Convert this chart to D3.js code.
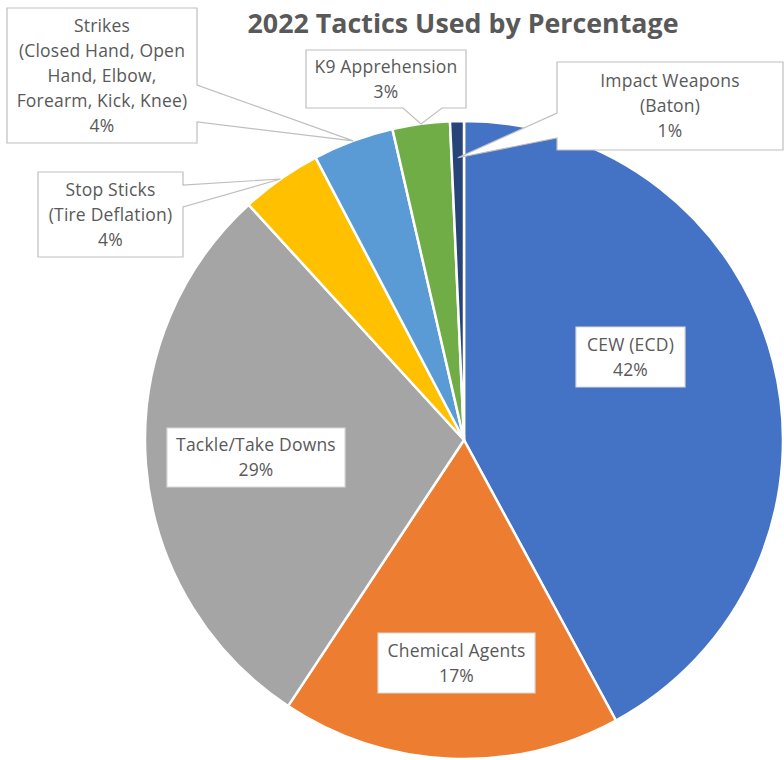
<!DOCTYPE html>
<html>
<head>
<meta charset="utf-8">
<script src="https://cdn.jsdelivr.net/npm/d3@7"></script>
<style>
  html, body { margin: 0; padding: 0; background: #fff; }
  svg { display: block; }
  text { font-family: "Open Sans", "Noto Sans", sans-serif; fill: #595959; }
</style>
</head>
<body>
<svg id="chart" width="784" height="760"></svg>
<script>
// ---- data ----
const categories = ["CEW (ECD)", "Chemical Agents", "Tackle/Take Downs", "Stop Sticks (Tire Deflation)",
  "Strikes (Closed Hand, Open Hand, Elbow, Forearm, Kick, Knee)", "K9 Apprehension", "Impact Weapons (Baton)"];
const values = [42.1, 17.2, 28.9, 4.1, 4.1, 2.9, 0.7];
const percentLabels = ["42%", "17%", "29%", "4%", "4%", "3%", "1%"];
const labelLines = [
  ["CEW (ECD)"],
  ["Chemical Agents"],
  ["Tackle/Take Downs"],
  ["Stop Sticks", "(Tire Deflation)"],
  ["Strikes", "(Closed Hand, Open", "Hand, Elbow,", "Forearm, Kick, Knee)"],
  ["K9 Apprehension"],
  ["Impact Weapons", "(Baton)"]
];
const colors = ["#4472C4", "#ED7D31", "#A5A5A5", "#FFC000", "#5B9BD5", "#70AD47", "#264478"];
const title = "2022 Tactics Used by Percentage";

// ---- layout (label boxes and callouts) ----
const cx = 464, cy = 440, R = 319;
const boxes = [
  {x: 576, y: 327, w: 109, h: 60},
  {x: 378, y: 633, w: 157, h: 60},
  {x: 167, y: 428, w: 178, h: 59},
  {x: 38, y: 172, w: 145, h: 85, ptr: {side: "right", y1: 185, y2: 207, tipR: 1.0}},
  {x: 7, y: 8, w: 190, h: 135, ptr: {side: "right", y1: 85, y2: 122, tipR: 1.0}},
  {x: 306, y: 50, w: 160, h: 58, ptr: {side: "bottom", x1: 403, x2: 442, tipR: 1.0}},
  {x: 557, y: 62, w: 226, h: 88, ptr: {side: "left", y1: 113, y2: 138, tipR: 0.885}}
];

const svg = d3.select("#chart");

const pie = d3.pie().sort(null).value(d => d).startAngle(0).endAngle(2 * Math.PI);
const arcs = pie(values);
const arc = d3.arc().innerRadius(0).outerRadius(R);

const g = svg.append("g").attr("transform", `translate(${cx},${cy})`);
g.selectAll("path.slice")
  .data(arcs)
  .join("path")
  .attr("class", "slice")
  .attr("d", arc)
  .attr("fill", (d, i) => colors[i])
  .attr("stroke", "#fff")
  .attr("stroke-width", 2.5)
  .attr("stroke-linejoin", "round");

function tip(i, f) {
  const a = arcs[i];
  const mid = (a.startAngle + a.endAngle) / 2;
  const r = R * f;
  return [cx + r * Math.sin(mid), cy - r * Math.cos(mid)];
}

// ---- label boxes ----
const lh = 25;
boxes.forEach((b, i) => {
  let pts;
  const x0 = b.x, y0 = b.y, x1 = b.x + b.w, y1 = b.y + b.h;
  if (!b.ptr) {
    pts = [[x0, y0], [x1, y0], [x1, y1], [x0, y1]];
  } else {
    const t = tip(i, b.ptr.tipR);
    if (b.ptr.side === "right") {
      pts = [[x0, y0], [x1, y0], [x1, b.ptr.y1], t, [x1, b.ptr.y2], [x1, y1], [x0, y1]];
    } else if (b.ptr.side === "bottom") {
      pts = [[x0, y0], [x1, y0], [x1, y1], [b.ptr.x2, y1], t, [b.ptr.x1, y1], [x0, y1]];
    } else {
      pts = [[x0, y0], [x1, y0], [x1, y1], [x0, y1], [x0, b.ptr.y2], t, [x0, b.ptr.y1]];
    }
  }
  svg.append("path")
    .attr("d", d3.line()(pts) + "Z")
    .attr("fill", "#fff")
    .attr("stroke", b.ptr ? "#bfbfbf" : "#d9d9d9")
    .attr("stroke-width", 1.2)
    .attr("stroke-linejoin", "miter");

  const lines = labelLines[i].concat([percentLabels[i]]);
  const midY = (y0 + y1) / 2;
  const startY = midY - (lines.length - 1) * lh / 2;
  const tx = svg.append("text")
    .attr("text-anchor", "middle")
    .attr("font-size", 17.5)
    .attr("letter-spacing", 0.2);
  lines.forEach((ln, k) => {
    tx.append("tspan")
      .attr("x", (x0 + x1) / 2)
      .attr("y", startY + k * lh)
      .attr("dy", "0.35em")
      .text(ln);
  });
});

// ---- title ----
svg.append("text")
  .attr("x", 463)
  .attr("y", 33)
  .attr("text-anchor", "middle")
  .attr("font-size", 27)
  .attr("font-weight", "bold")
  .attr("textLength", 431)
  .attr("lengthAdjust", "spacingAndGlyphs")
  .text(title);
</script>
</body>
</html>
